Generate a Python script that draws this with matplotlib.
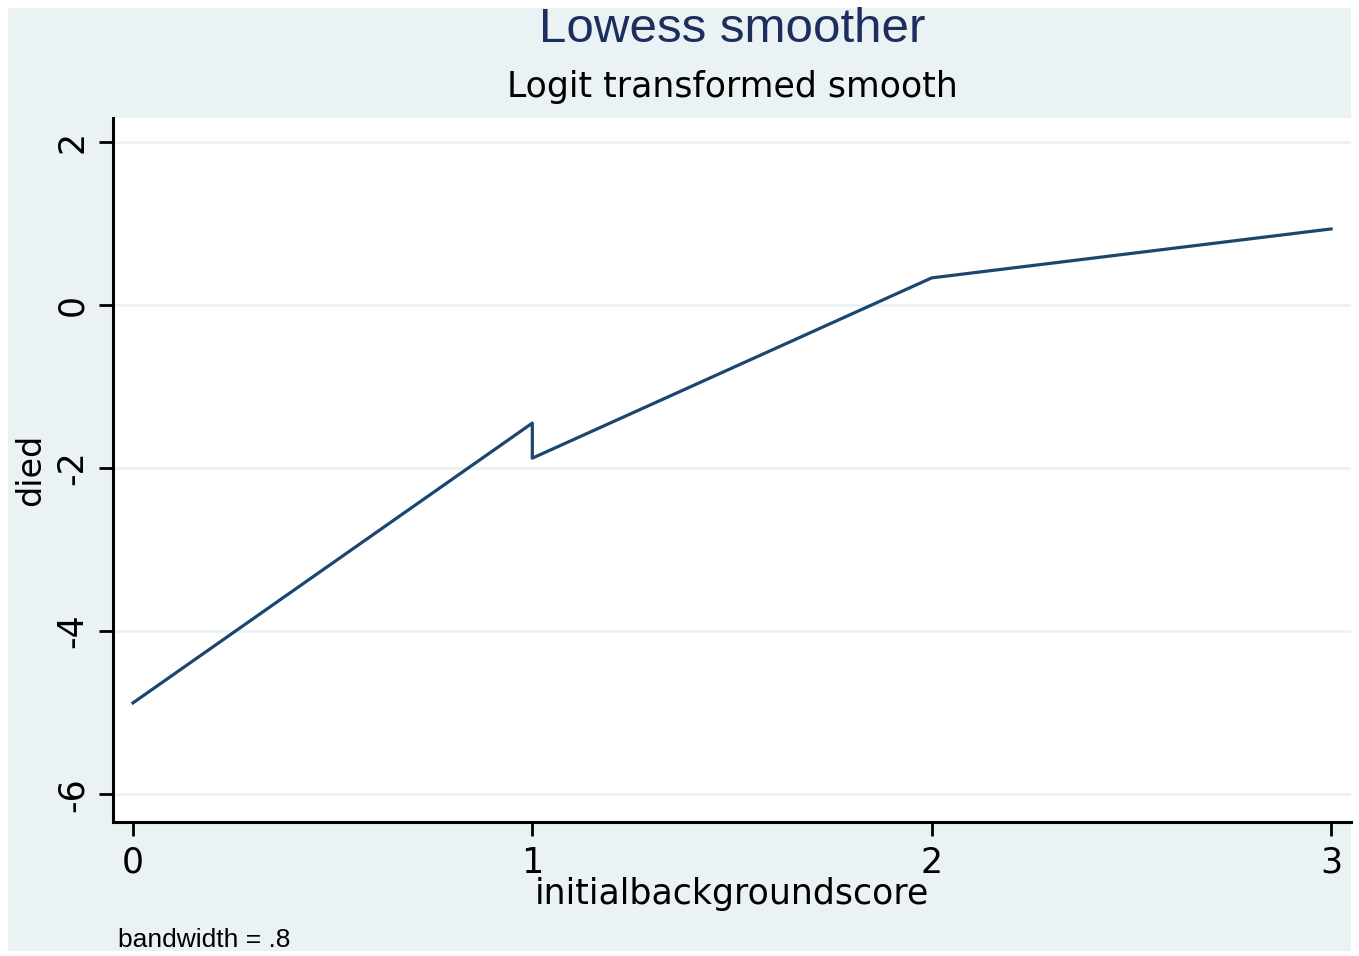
import matplotlib
matplotlib.use("Agg")
import matplotlib.pyplot as plt
from matplotlib.patches import Rectangle

# lowess curve (logit scale)
score = [0, 1, 1, 2, 3]
died_logit = [-4.88, -1.45, -1.88, 0.33, 0.93]

yticks = [2, 0, -2, -4, -6]
xticks = [0, 1, 2, 3]

bg = "#eaf2f3"
navy = "#1a476f"

fig = plt.figure(figsize=(13.59, 9.56), dpi=100)
fig.patch.set_facecolor("white")
fig.add_artist(Rectangle((8 / 1359, 1 - 951 / 956), 1343 / 1359, 943 / 956,
                         transform=fig.transFigure, facecolor=bg, edgecolor="none", zorder=-10))

ax = fig.add_axes([113 / 1359, 1 - 822 / 956, 1238 / 1359, 704 / 956])
ax.set_facecolor("white")
ax.plot(score, died_logit, color=navy, lw=2.3, zorder=3)

ax.set_xlim(-0.05, 3.05)
ax.set_ylim(-6.34, 2.29)
ax.set_yticks(yticks)
ax.set_xticks(xticks)
ax.set_yticklabels([str(t) for t in yticks], rotation=90, va="center", fontsize=25)
ax.set_xticklabels([str(t) for t in xticks], fontsize=25)
ax.tick_params(axis="both", length=10, width=2, color="black", pad=7)
for side in ["top", "right"]:
    ax.spines[side].set_visible(False)
for side in ["left", "bottom"]:
    ax.spines[side].set_linewidth(2.2)
ax.grid(axis="y", color=bg, lw=2)
ax.set_axisbelow(True)

ax.set_ylabel("died", fontsize=24, labelpad=6)
ax.set_xlabel("initialbackgroundscore", fontsize=25, labelpad=-2)

fig.text(732 / 1359, 1 - 29 / 956, "Lowess smoother", ha="center", va="center",
         fontsize=35.5, color="#1c2d5e", family="Liberation Sans")
fig.text(732 / 1359, 1 - 87 / 956, "Logit transformed smooth", ha="center", va="center",
         fontsize=25, color="black")
fig.text(118 / 1359, 1 - 940 / 956, "bandwidth = .8", ha="left", va="center",
         fontsize=19, color="black", family="Liberation Sans")

fig.savefig("out.png", dpi=100)
